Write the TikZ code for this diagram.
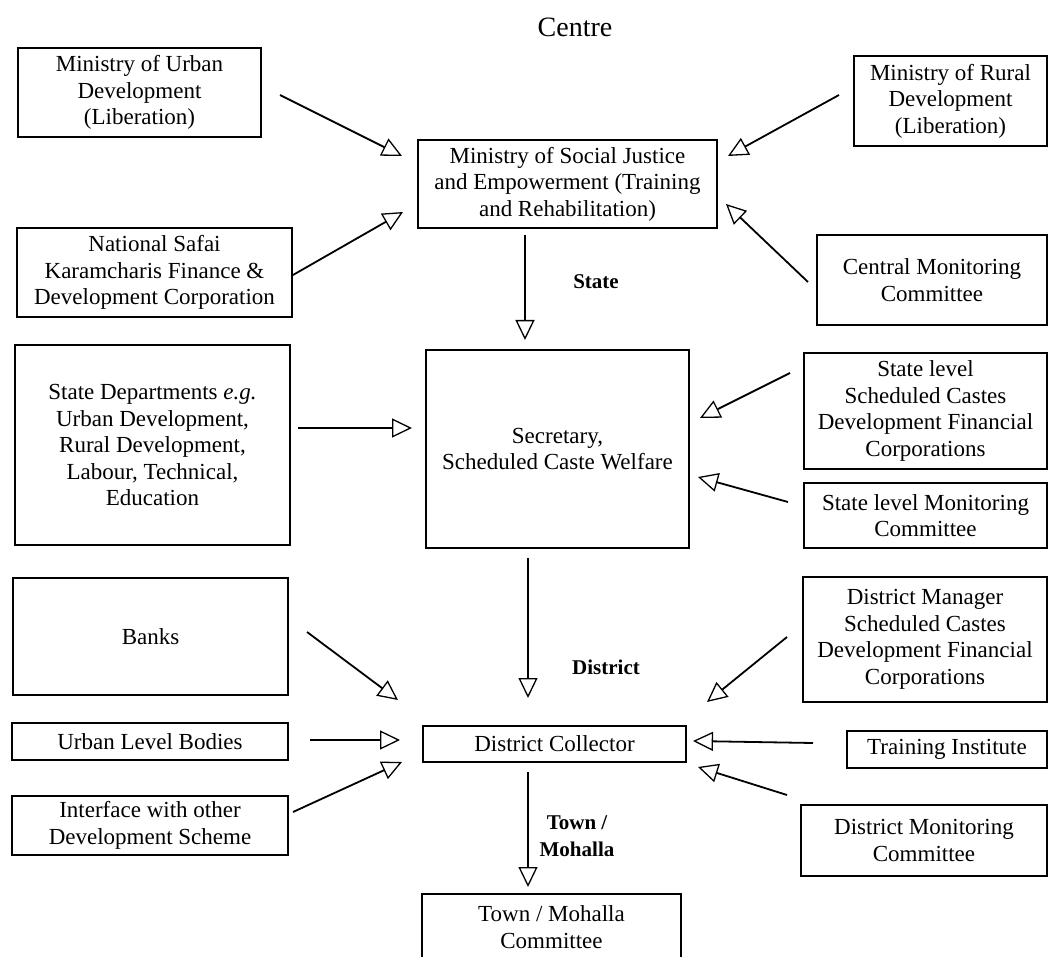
\documentclass[tikz,border=0pt]{standalone}
\usepackage{fontspec}
\setmainfont{Liberation Serif}
\usetikzlibrary{arrows.meta}
\newcommand\bx[6]{\node[box, minimum width={(#4-#2)*1pt}, minimum height={(#5-#3)*1pt}] (#1) at ({(#2+#4)/2},{(#3+#5)/2}) {#6};}
\begin{document}
\begin{tikzpicture}[x=1pt,y=-1pt,
  box/.style={draw, line width=1.6pt, align=center, inner sep=0pt, outer sep=0pt,
    font=\fontsize{23}{26.5}\selectfont},
  conn/.style={line width=1.8pt, -{Triangle[open, length=20pt, width=19pt, line width=1.3pt]}},
  lvl/.style={font=\fontsize{21}{27}\selectfont\bfseries, align=center, inner sep=0pt}]
\useasboundingbox (0,0) rectangle (1050,957);
\fill[white] (0,0) rectangle (1050,957);

\node[font=\fontsize{28}{30}\selectfont, inner sep=0pt] (centre) at (575,27) {Centre};

\bx{urban}{18}{48}{261}{137}{Ministry of Urban\\Development\\(Liberation)}
\bx{rural}{854}{56}{1047}{146}{Ministry of Rural\\Development\\(Liberation)}
\bx{msj}{418}{140}{717}{228}{Ministry of Social Justice\\and Empowerment (Training\\and Rehabilitation)}
\bx{ns}{17}{228}{292}{317}{National Safai\\Karamcharis Finance \&\\Development Corporation}
\bx{cmc}{817}{235}{1047}{325}{Central Monitoring\\Committee}
\bx{sd}{15}{345}{290}{545}{State Departments \emph{e.g.}\\Urban Development,\\Rural Development,\\Labour, Technical,\\Education}
\bx{sec}{426}{350}{689}{548}{Secretary,\\Scheduled Caste Welfare}
\bx{slsc}{804}{353}{1047}{469}{State level\\Scheduled Castes\\Development Financial\\Corporations}
\bx{slmc}{804}{483}{1047}{548}{State level Monitoring\\Committee}
\bx{banks}{13}{578}{288}{695}{Banks}
\bx{dm}{803}{577}{1047}{702}{District Manager\\Scheduled Castes\\Development Financial\\Corporations}
\bx{ulb}{12}{723}{288}{760}{Urban Level Bodies}
\bx{dc}{423}{726}{686}{762}{District Collector}
\bx{ti}{847}{731}{1047}{768}{Training Institute}
\bx{if}{12}{796}{288}{855}{Interface with other\\Development Scheme}
\bx{dmc}{801}{805}{1047}{876}{District Monitoring\\Committee}
\bx{town}{422}{894}{681}{960}{Town / Mohalla\\Committee}

\node[lvl] (lstate) at (596,282) {State};
\node[lvl] (ldistrict) at (606,667) {District};
\node[lvl] (ltown) at (577,836) {Town /\\Mohalla};

\coordinate (a1s) at (280,95);  \coordinate (a1e) at (402,156);
\coordinate (a2s) at (839,95);  \coordinate (a2e) at (728,156);
\coordinate (a3s) at (293,275); \coordinate (a3e) at (403,212);
\coordinate (a4s) at (808,282); \coordinate (a4e) at (726,204);
\coordinate (a5s) at (525,235); \coordinate (a5e) at (525,340);
\coordinate (a6s) at (298,428); \coordinate (a6e) at (412,428);
\coordinate (a7s) at (790,373); \coordinate (a7e) at (700,418);
\coordinate (a8s) at (788,502); \coordinate (a8e) at (698,477);
\coordinate (a9s) at (528,558); \coordinate (a9e) at (528,698);
\coordinate (a10s) at (307,632); \coordinate (a10e) at (398,700);
\coordinate (a11s) at (787,637); \coordinate (a11e) at (707,702);
\coordinate (a12s) at (310,740); \coordinate (a12e) at (400,740);
\coordinate (a13s) at (813,743); \coordinate (a13e) at (693,741);
\coordinate (a14s) at (293,812); \coordinate (a14e) at (402,762);
\coordinate (a15s) at (787,795); \coordinate (a15e) at (698,767);
\coordinate (a16s) at (528,772); \coordinate (a16e) at (528,887);

\foreach \i in {1,...,16} \draw[conn] (a\i s) -- (a\i e);
\end{tikzpicture}
\end{document}
